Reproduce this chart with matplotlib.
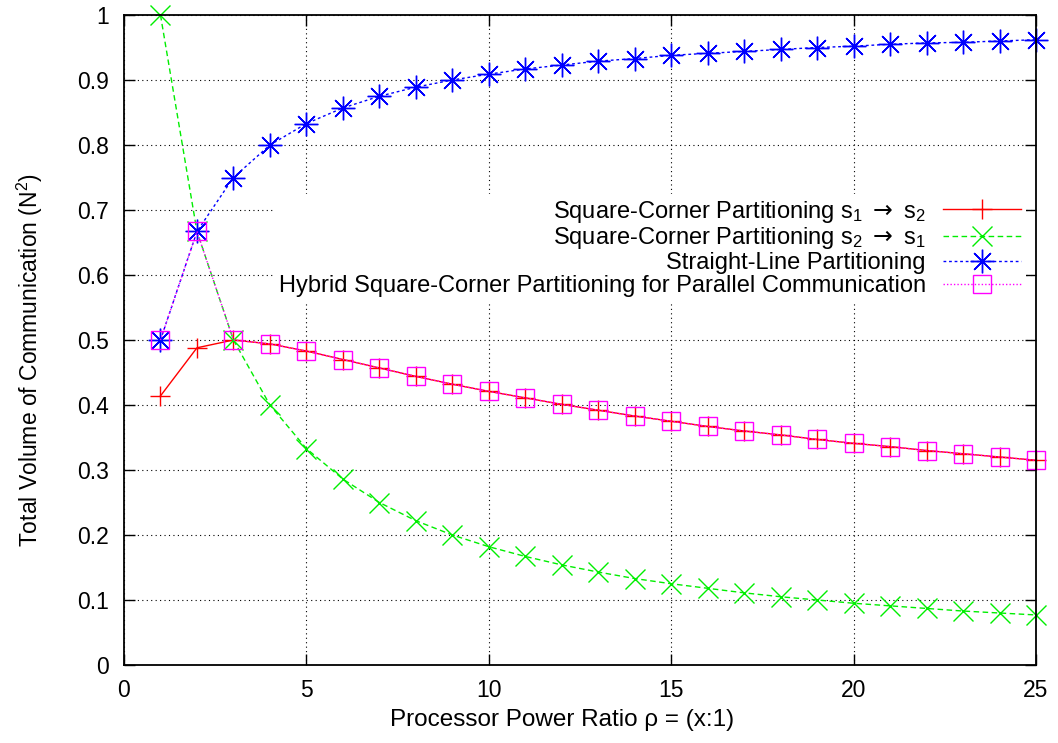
import matplotlib
matplotlib.use("Agg")
import matplotlib.pyplot as plt

plt.rcParams['font.family'] = ['Liberation Sans', 'DejaVu Sans']
plt.rcParams['mathtext.fontset'] = 'custom'
plt.rcParams['mathtext.rm'] = 'Liberation Sans'
plt.rcParams['mathtext.it'] = 'Liberation Sans'
plt.rcParams['mathtext.sf'] = 'DejaVu Sans'

ratio = list(range(1, 26))
square_corner_12 = [0.414, 0.488, 0.500, 0.494, 0.483, 0.470, 0.457, 0.444, 0.432, 0.421,
                    0.411, 0.401, 0.392, 0.383, 0.375, 0.367, 0.360, 0.354, 0.347, 0.341,
                    0.336, 0.330, 0.325, 0.320, 0.315]
square_corner_21 = [1.000, 0.667, 0.500, 0.400, 0.333, 0.286, 0.250, 0.222, 0.200, 0.182,
                    0.167, 0.154, 0.143, 0.133, 0.125, 0.118, 0.111, 0.105, 0.100, 0.095,
                    0.091, 0.087, 0.083, 0.080, 0.077]
straight_line = [0.500, 0.667, 0.750, 0.800, 0.833, 0.857, 0.875, 0.889, 0.900, 0.909,
                 0.917, 0.923, 0.929, 0.933, 0.938, 0.941, 0.944, 0.947, 0.950, 0.952,
                 0.955, 0.957, 0.958, 0.960, 0.962]
hybrid = [0.500, 0.667, 0.500, 0.494, 0.483, 0.470, 0.457, 0.444, 0.432, 0.421,
          0.411, 0.401, 0.392, 0.383, 0.375, 0.367, 0.360, 0.354, 0.347, 0.341,
          0.336, 0.330, 0.325, 0.320, 0.315]

labels = [r'Square-Corner Partitioning s$_1$ $\mathsf{\rightarrow}$ s$_2$',
          r'Square-Corner Partitioning s$_2$ $\mathsf{\rightarrow}$ s$_1$',
          'Straight-Line Partitioning',
          'Hybrid Square-Corner Partitioning for Parallel Communication']

fig = plt.figure(figsize=(10.58, 7.43), dpi=100)
ax = fig.add_axes([124/1058, 1-665/743, (1036-124)/1058, (665-15)/743])

lw = 1.0
ax.plot(ratio, square_corner_12, color='#ff0000', linestyle='-', lw=lw,
        marker='+', markersize=14, markeredgewidth=1.0, label=labels[0], clip_on=False)
ax.plot(ratio, square_corner_21, color='#00ee00', linestyle=(0, (4, 2.5)), lw=lw,
        marker='x', markersize=14, markeredgewidth=1.0, label=labels[1], clip_on=False)
ax.plot(ratio, straight_line, color='#0000ff', linestyle=(0, (2, 2)), lw=lw,
        marker=(8, 2, 0), markersize=17, markeredgewidth=1.0, label=labels[2], clip_on=False)
ax.plot(ratio, hybrid, color='#ff00ff', linestyle=(0, (1, 1.5)), lw=lw,
        marker='s', markersize=13, markeredgewidth=1.0, markerfacecolor='none',
        label=labels[3], clip_on=False)

ax.set_xlim(0, 25)
ax.set_ylim(0, 1)
ax.set_xticks([0, 5, 10, 15, 20, 25])
ax.set_yticks([0, 0.1, 0.2, 0.3, 0.4, 0.5, 0.6, 0.7, 0.8, 0.9, 1.0])
ax.set_yticklabels(['0', '0.1', '0.2', '0.3', '0.4', '0.5', '0.6', '0.7', '0.8', '0.9', '1'])
ax.tick_params(direction='in', length=8, width=1, top=True, right=True, labelsize=16.5)
ax.tick_params(axis='y', pad=11)
ax.tick_params(axis='x', pad=10)
ax.grid(True, color='black', linestyle=(0, (1, 3)), linewidth=0.8)
for s in ax.spines.values():
    s.set_linewidth(1.3)

fig.text(562/1058, 1-720/743, 'Processor Power Ratio ρ = (x:1)', fontsize=17.5,
         ha='center', va='center')
fig.text(30/1058, 1-360/743, r'Total Volume of Communication (N$^2$)', fontsize=16.5,
         ha='center', va='center', rotation=90)

leg = ax.legend(loc='upper right', bbox_to_anchor=(1.0, (665-194)/650), borderaxespad=0,
                frameon=True, fancybox=False, framealpha=1, edgecolor='none',
                facecolor='white', markerfirst=False, fontsize=17,
                handlelength=3.3, handletextpad=0.75, labelspacing=0.03,
                borderpad=0.2)
leg.set_bbox_to_anchor((1.0 - 10/912, (665-194)/650), transform=ax.transAxes)

fig.savefig('out.png', dpi=100)
